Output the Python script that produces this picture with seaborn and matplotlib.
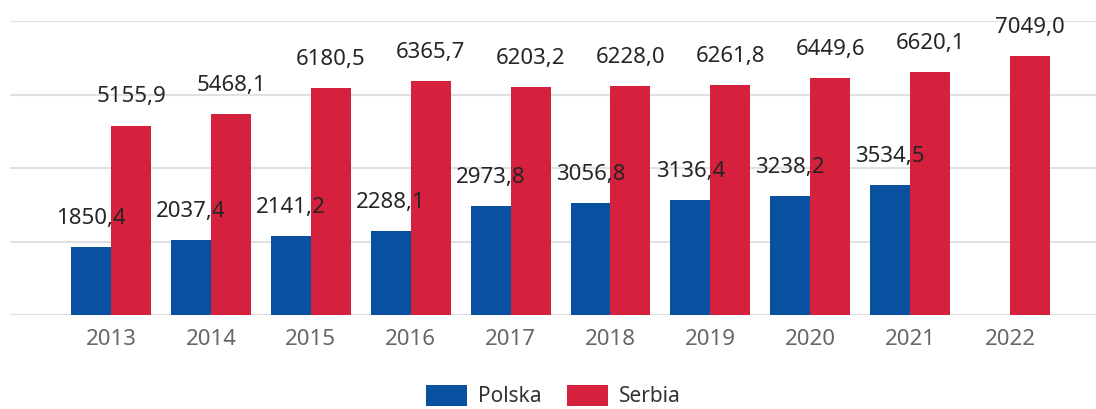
import matplotlib
matplotlib.use("Agg")
import matplotlib.pyplot as plt
import seaborn as sns
import pandas as pd
import numpy as np

years = ['2013', '2014', '2015', '2016', '2017', '2018', '2019', '2020', '2021', '2022']
polska = [1850.4, 2037.4, 2141.2, 2288.1, 2973.8, 3056.8, 3136.4, 3238.2, 3534.5, np.nan]
serbia = [5155.9, 5468.1, 6180.5, 6365.7, 6203.2, 6228.0, 6261.8, 6449.6, 6620.1, 7049.0]
countries = ['Polska', 'Serbia']
colors = ['#0a50a1', '#d5213e']

df = pd.DataFrame({
    'rok': years * 2,
    'kraj': ['Polska'] * len(years) + ['Serbia'] * len(years),
    'wartosc': polska + serbia,
})

sns.set_style('white')
plt.rcParams['font.family'] = ['Noto Sans', 'DejaVu Sans']

fig = plt.figure(figsize=(10.96, 4.09), dpi=100)
ax = fig.add_axes([10 / 1096, 1 - 315 / 409, 1 - 10 / 1096, (315 - 21) / 409])

sns.barplot(data=df, x='rok', y='wartosc', hue='kraj', hue_order=countries,
            palette=colors, width=0.8, saturation=1, ax=ax, errorbar=None,
            linewidth=0)

# etykiety z wartościami nad słupkami (bez brakującego słupka)
for cont, vals in zip(ax.containers, [polska, serbia]):
    for bar, v in zip(cont, vals):
        if bar is None or np.isnan(v):
            continue
        ax.annotate(f'{v:.1f}'.replace('.', ','),
                    (bar.get_x() + bar.get_width() / 2, bar.get_height()),
                    xytext=(0, 13), textcoords='offset points',
                    ha='center', va='bottom', fontsize=16, color='#252525')

ax.set_ylim(0, 8000)
ax.set_yticks([0, 2000, 4000, 6000, 8000])
ax.set_yticklabels([])
ax.set_xlim(-1.011, 9.86)
ax.grid(axis='y', color='#e1e1e1', linewidth=1.5)
ax.set_axisbelow(True)
for s in ax.spines.values():
    s.set_visible(False)
ax.axhline(0, color='#cfcfcf', linewidth=1.5, zorder=0.5)
ax.tick_params(axis='x', length=0, pad=10, labelsize=16, labelcolor='#666666')
ax.tick_params(axis='y', length=0)
ax.set_xlabel('')
ax.set_ylabel('')

handles, labs = ax.get_legend_handles_labels()
ax.get_legend().remove()
fig.legend(handles, labs, loc='center', bbox_to_anchor=(0.505, 0.032), ncol=2,
           frameon=False, fontsize=15, handlelength=1.97, handleheight=1.2,
           handletextpad=0.53, columnspacing=1.2, labelcolor='#333333')

fig.savefig('out.png', dpi=100)
